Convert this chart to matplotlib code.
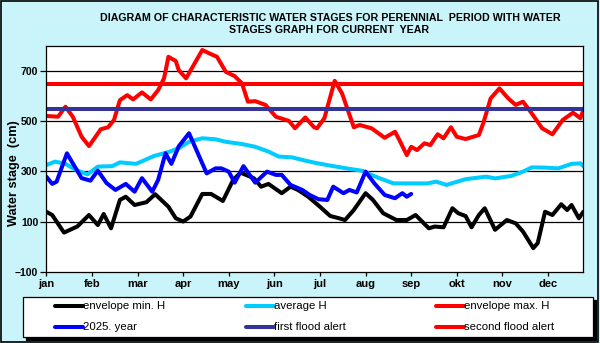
#!/usr/bin/env python3
"""Characteristic water stages (perennial envelopes) with the current year hydrograph."""
import matplotlib.pyplot as plt
from matplotlib.lines import Line2D
from matplotlib.patches import Rectangle

# day of year (0..365) and water stage in cm
min_days = [0, 4, 12, 21, 29, 35, 39, 44, 50, 54, 60, 68, 74, 83, 88, 93, 98, 106, 112,
            120, 127, 132, 141, 146, 151, 160, 166, 171, 178, 186, 193, 199, 203, 209,
            217, 222, 229, 238, 245, 251, 260, 264, 270, 276, 280, 285, 289, 294, 298,
            305, 313, 319, 324, 331, 334, 339, 344, 350, 354, 357, 362, 365]
min_stage = [139, 126, 56, 80, 126, 86, 130, 73, 186, 199, 166, 177, 209, 159, 113, 100,
             120, 210, 210, 182, 266, 295, 273, 239, 250, 213, 239, 226, 199, 159, 122,
             113, 106, 146, 213, 186, 133, 106, 106, 126, 73, 80, 77, 153, 133, 122, 77,
             126, 153, 67, 106, 93, 60, -6, 14, 139, 126, 169, 146, 166, 113, 139]

avg_days = [0, 6, 13, 20, 28, 35, 45, 50, 61, 73, 84, 90, 97, 106, 115, 122, 133, 142,
            151, 158, 167, 176, 182, 191, 204, 215, 225, 236, 247, 259, 265, 272, 285,
            299, 305, 316, 324, 330, 339, 348, 357, 363, 365]
avg_stage = [325, 339, 330, 306, 288, 319, 321, 336, 330, 361, 379, 392, 418, 432, 428,
             418, 409, 398, 379, 359, 356, 343, 335, 325, 312, 302, 276, 252, 252, 252,
             259, 246, 269, 279, 272, 282, 299, 316, 315, 312, 330, 332, 321]

max_days = [0, 8, 13, 18, 24, 29, 37, 42, 46, 50, 55, 59, 65, 71, 76, 80, 83, 88, 90, 95,
            106, 111, 116, 122, 128, 133, 137, 142, 149, 156, 165, 169, 176, 182, 184,
            189, 196, 201, 209, 213, 221, 230, 237, 240, 245, 248, 252, 257, 261, 266,
            270, 275, 279, 285, 294, 297, 302, 308, 314, 319, 324, 330, 337, 344, 351,
            358, 363, 365]
max_stage = [521, 518, 558, 518, 438, 401, 468, 476, 505, 584, 604, 587, 615, 587, 624,
             671, 757, 740, 704, 671, 784, 770, 757, 697, 680, 651, 578, 580, 565, 518,
             501, 472, 515, 476, 472, 512, 661, 611, 476, 485, 472, 434, 458, 425, 365,
             398, 385, 412, 405, 448, 432, 476, 438, 429, 445, 492, 591, 631, 591, 565,
             578, 531, 472, 448, 505, 534, 512, 545]

cur_days = [0, 4, 7, 14, 18, 24, 30, 35, 41, 47, 54, 60, 65, 72, 76, 81, 85, 90, 97,
            103, 109, 115, 119, 124, 128, 134, 142, 150, 156, 160, 166, 174, 179, 185,
            191, 195, 202, 206, 211, 217, 223, 230, 237, 242, 245, 248]
cur_stage = [279, 250, 259, 372, 332, 273, 263, 303, 253, 226, 250, 219, 273, 219, 266,
             372, 330, 400, 452, 372, 292, 312, 312, 299, 255, 321, 255, 299, 286, 286,
             246, 226, 206, 189, 186, 239, 213, 226, 216, 299, 252, 206, 193, 213, 199, 210]

first_alert = 550
second_alert = 650

month_labels = ["jan", "feb", "mar", "apr", "may", "jun",
                "jul", "aug", "sep", "okt", "nov", "dec"]

BG = "#c8f4fa"
LW = 2.9

fig = plt.figure(figsize=(6, 3.43), dpi=100, facecolor=BG)
ax = fig.add_axes([0.0772, 0.2079, 0.8950, 0.6580])

l_min, = ax.plot(min_days, min_stage, color="black", lw=LW, solid_joinstyle="round",
                 solid_capstyle="round", label="envelope min. H")
l_avg, = ax.plot(avg_days, avg_stage, color="#00ccff", lw=LW, solid_joinstyle="round",
                 solid_capstyle="round", label="average H")
l_max, = ax.plot(max_days, max_stage, color="#ff0000", lw=LW, solid_joinstyle="round",
                 solid_capstyle="round", label="envelope max. H")
l_cur, = ax.plot(cur_days, cur_stage, color="#0000ff", lw=LW, solid_joinstyle="round",
                 solid_capstyle="round", label="2025. year")
l_first = ax.axhline(first_alert, color="#333399", lw=LW, label="first flood alert")
l_second = ax.axhline(second_alert, color="#ff0000", lw=LW, label="second flood alert")

ax.set_xlim(0, 365)
ax.set_ylim(-100, 800)
ax.set_yticks([-100, 100, 300, 500, 700])
for y in [100, 300, 500, 700]:
    ax.axhline(y, color="black", lw=0.9, zorder=0.5)
ax.set_xticks([31 * i for i in range(12)])
ax.set_xticklabels(month_labels)
ax.tick_params(axis="y", direction="out", length=4.3, width=0.9, pad=1.5,
               labelsize=7.5)
ax.tick_params(axis="x", direction="out", length=3, width=0.9, pad=2.5, labelsize=8)
for lab in ax.get_xticklabels() + ax.get_yticklabels():
    lab.set_fontfamily("Liberation Sans")
    lab.set_fontweight("bold")
for sp in ax.spines.values():
    sp.set_linewidth(0.9)
ax.set_facecolor("white")

fig.text(0.551, 0.948, "DIAGRAM OF CHARACTERISTIC WATER STAGES FOR PERENNIAL  PERIOD WITH WATER",
         ha="center", va="center", fontsize=7.7, fontweight="bold", family="Liberation Sans")
fig.text(0.548, 0.913, "STAGES GRAPH FOR CURRENT  YEAR",
         ha="center", va="center", fontsize=7.7, fontweight="bold", family="Liberation Sans")
fig.text(0.024, 0.496, "Water stage  (cm)", rotation=90, ha="center", va="center",
         fontsize=9.2, fontweight="bold", family="Liberation Sans")

# legend box with hard black shadow
lx, ly, lw_, lh = 23.3 / 600, 1 - 337.3 / 343, 570 / 600, 40 / 343
fig.patches.append(Rectangle((lx + 3 / 600, ly - 3 / 343), lw_, lh, transform=fig.transFigure,
                             facecolor="black", edgecolor="black", lw=0.9, zorder=1))
fig.patches.append(Rectangle((lx, ly), lw_, lh, transform=fig.transFigure,
                             facecolor="white", edgecolor="black", lw=0.9, zorder=2))

handles = [l_min, l_avg, l_max, l_cur, l_first, l_second]
for i, h in enumerate(handles):
    col, row = i % 3, i // 3
    x0 = (55 + 190.5 * col) / 600
    y0 = 1 - (305.7 + 21 * row) / 343
    fig.add_artist(Line2D([x0, x0 + 28 / 600], [y0, y0], transform=fig.transFigure,
                          color=h.get_color(), lw=LW, solid_capstyle="round", zorder=3))
    fig.text(x0 + 28 / 600, y0, h.get_label(), ha="left", va="center", fontsize=8.2,
             family="Liberation Sans", zorder=3)

fig.patches.append(Rectangle((0.001, 0.002), 0.995, 0.995, transform=fig.transFigure,
                             facecolor="none", edgecolor="black", lw=1.2, zorder=5))

fig.savefig("out.png", dpi=100, facecolor=BG)
